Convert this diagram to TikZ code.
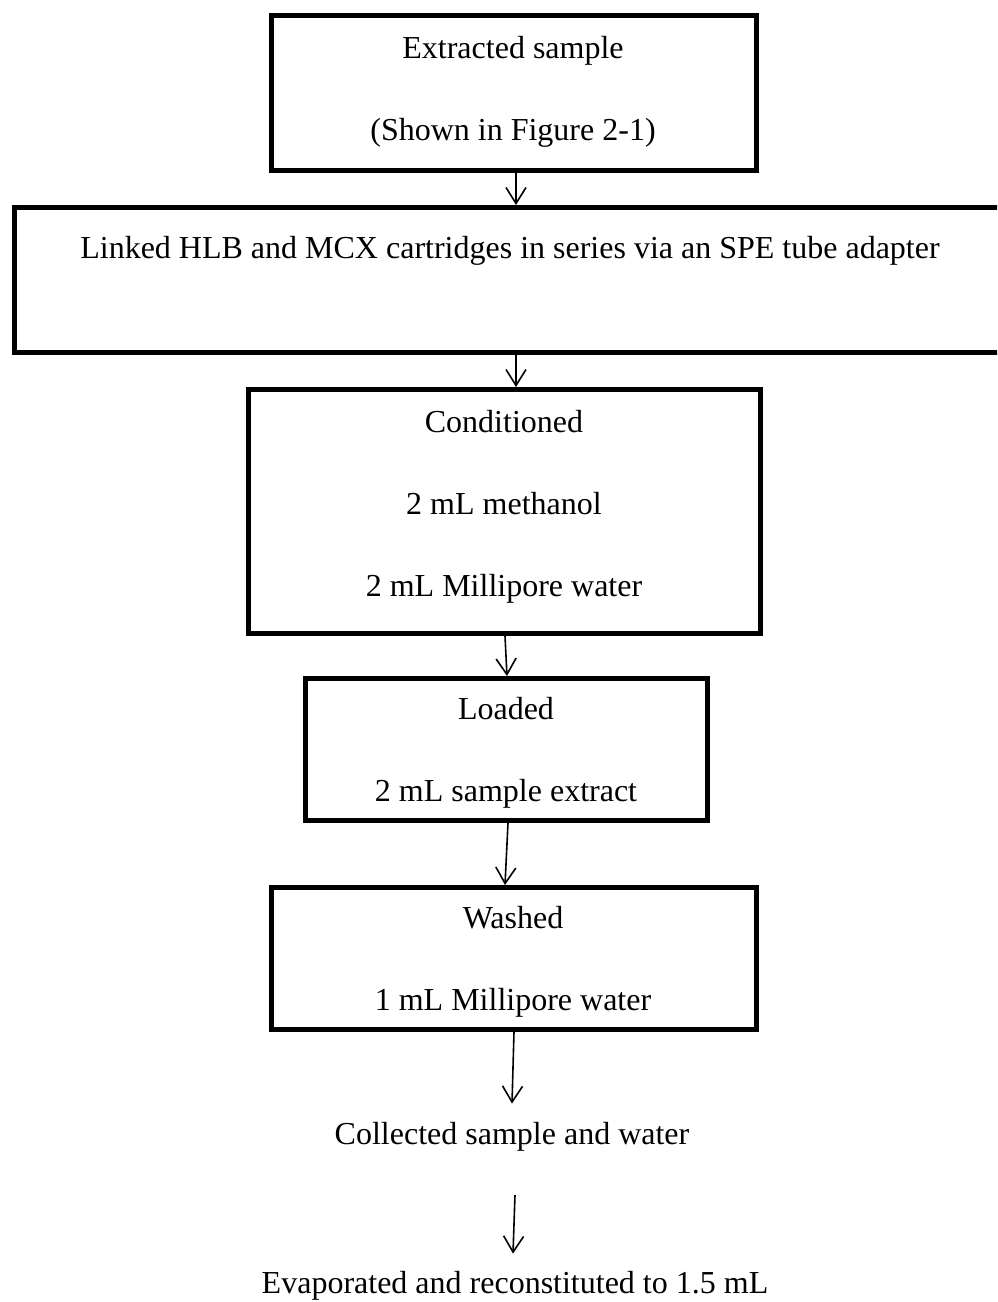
\documentclass[tikz,border=0pt]{standalone}
\usepackage{fontspec}
\setmainfont{Liberation Serif}
\usetikzlibrary{arrows.meta,calc}
\begin{document}
\begin{tikzpicture}[x=1pt,y=-1pt,
  box/.style={draw,line width=5pt,inner sep=0pt,rectangle},
  txt/.style={anchor=base,inner sep=0pt,font=\fontsize{32}{38}\selectfont},
  arr/.style={line width=1.6pt,-{Straight Barb[length=16pt,width=20pt,line width=1.6pt]}}]
\clip (0,0) rectangle (997,1302);
\useasboundingbox (0,0) rectangle (997,1302);
\fill[white] (0,0) rectangle (997,1302);
% boxes
\node[box,minimum width=485pt,minimum height=155pt] (b1) at (513.5,92.5) {};
\node[box,minimum width=998pt,minimum height=145pt] (b2) at (513,280) {};
\node[box,minimum width=512pt,minimum height=244pt] (b3) at (504.5,511.5) {};
\node[box,minimum width=402pt,minimum height=142pt] (b4) at (506.5,749.5) {};
\node[box,minimum width=485pt,minimum height=142pt] (b5) at (514,958.5) {};
% texts
\node[txt] (t1a) at (513,58) {Extracted sample};
\node[txt] (t1b) at (513,140) {(Shown in Figure 2-1)};
\node[txt] (t2) at (510,258) {Linked HLB and MCX cartridges in series via an SPE tube adapter};
\node[txt] (t3a) at (504,432) {Conditioned};
\node[txt] (t3b) at (504,514) {2 mL methanol};
\node[txt] (t3c) at (504,596) {2 mL Millipore water};
\node[txt] (t4a) at (506,719) {Loaded};
\node[txt] (t4b) at (506,801) {2 mL sample extract};
\node[txt] (t5a) at (513,928) {Washed};
\node[txt] (t5b) at (513,1010) {1 mL Millipore water};
\node[txt] (c1) at (512,1144) {Collected sample and water};
\node[txt] (c2) at (515,1293) {Evaporated and reconstituted to 1.5 mL};
% arrows
\draw[arr] ([xshift=2.5pt]b1.south) -- ([xshift=3pt]b2.north);
\draw[arr] ([xshift=3pt]b2.south) -- ([xshift=11.5pt]b3.north);
\draw[arr] ([xshift=0.5pt]b3.south) -- ([xshift=0.5pt]b4.north);
\draw[arr] ([xshift=1.5pt]b4.south) -- ([xshift=-9pt]b5.north);
\draw[arr] (b5.south) -- ([xshift=0pt,yshift=18pt]c1.north);
\draw[arr] ([xshift=3pt,yshift=-44pt]c1.south) -- ([xshift=-2pt,yshift=17pt]c2.north);
\end{tikzpicture}
\end{document}
